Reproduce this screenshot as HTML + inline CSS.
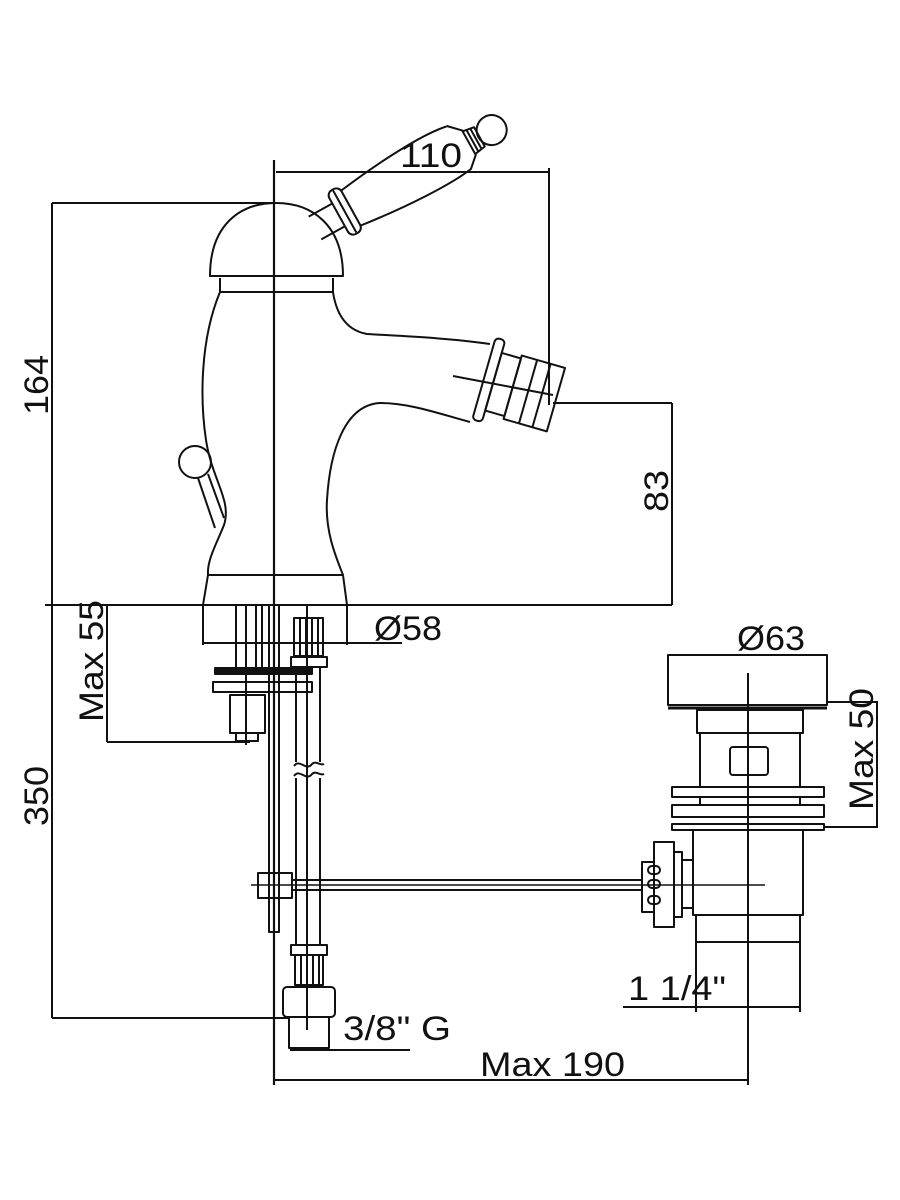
<!DOCTYPE html>
<html><head><meta charset="utf-8"><style>
html,body{margin:0;padding:0;background:#fff}
svg{display:block}
text{font-family:"Liberation Sans",sans-serif;fill:#111}
</style></head><body>
<svg width="900" height="1200" viewBox="0 0 900 1200" xmlns="http://www.w3.org/2000/svg">
<g fill="none" stroke="#111" stroke-width="2" stroke-linejoin="round">
<line x1="274" y1="160" x2="274" y2="1085" stroke-width="2.2"/>
<line x1="276" y1="172" x2="550" y2="172"/>
<line x1="549" y1="168" x2="549" y2="405"/>
<line x1="52" y1="203" x2="275" y2="203"/>
<line x1="52" y1="203" x2="52" y2="1018"/>
<line x1="45" y1="605" x2="672" y2="605"/>
<line x1="52" y1="1018" x2="290" y2="1018"/>
<line x1="553" y1="403" x2="672" y2="403"/>
<line x1="672" y1="403" x2="672" y2="605"/>
<path d="M210 276 C210 225 240 203 276 203 C312 203 343 225 343 276 Z"/>
<line x1="220" y1="292" x2="333" y2="292"/>
<line x1="220" y1="278" x2="220" y2="292"/>
<line x1="333" y1="278" x2="333" y2="292"/>
<g transform="translate(315 228) rotate(-29)">
<path d="M0 -13 L27 -13 M0 13 L27 13"/>
<rect x="27" y="-25" width="14" height="50" rx="6"/>
<line x1="34" y1="-24" x2="34" y2="24"/>
<path d="M41 -20 C90 -27 140 -30 165 -25 L176 -14 L176 14 L165 24 C140 28 90 26 41 20"/>
<path d="M176 -13 L188 -11 L188 11 L176 13"/>
<line x1="180" y1="-12" x2="180" y2="12"/>
<line x1="184" y1="-11" x2="184" y2="11"/>
<circle cx="202" cy="0" r="15"/>
</g>
<path d="M220 292 C200 340 200 400 206 440 C212 480 232 500 224 525 C216 545 207 560 208 575"/>
<path d="M333 292 C336 312 345 330 367 334 C400 336 450 338 490 344"/>
<path d="M470 422 C440 414 410 403 380 403 C345 405 330 450 327 500 C325 530 335 555 343 575"/>
<path d="M208 575 L343 575 L347 605 L203 605 Z"/>
<g transform="rotate(16 515 390)">
<rect x="482" y="345" width="10" height="85" rx="4"/>
<rect x="492" y="358" width="20" height="60"/>
<rect x="512" y="355" width="45" height="66"/>
<line x1="528" y1="355" x2="528" y2="421"/>
<line x1="542" y1="355" x2="542" y2="421"/>
</g>
<line x1="453" y1="376" x2="553" y2="395"/>
<circle cx="195" cy="462" r="16"/>
<path d="M198 478 L215 528 M208 474 L224 518"/>
<line x1="203" y1="605" x2="203" y2="645"/>
<line x1="347" y1="605" x2="347" y2="645"/>
<line x1="203" y1="643" x2="402" y2="643"/>
<line x1="236" y1="605" x2="236" y2="670"/>
<line x1="246" y1="605" x2="246" y2="745"/>
<line x1="256" y1="605" x2="256" y2="670"/>
<line x1="262" y1="605" x2="262" y2="670"/>
<rect x="215" y="668" width="97" height="6" fill="#111"/>
<rect x="213" y="682" width="99" height="10"/>
<rect x="230" y="695" width="35" height="38"/>
<rect x="236" y="733" width="22" height="8"/>
<line x1="107" y1="605" x2="107" y2="742"/>
<line x1="107" y1="742" x2="250" y2="742"/>
<rect x="269" y="605" width="10" height="327"/>
<rect x="294" y="618" width="29" height="38"/>
<line x1="300" y1="618" x2="300" y2="656"/><line x1="306" y1="618" x2="306" y2="656"/><line x1="312" y1="618" x2="312" y2="656"/><line x1="318" y1="618" x2="318" y2="656"/>
<rect x="291" y="657" width="36" height="10"/>
<path d="M296 667 L296 762 M320 667 L320 762"/>
<path d="M294 766 C300 758 306 772 312 764 C316 760 320 766 324 764"/>
<path d="M294 776 C300 768 306 782 312 774 C316 770 320 776 324 774"/>
<path d="M296 778 L296 945 M320 778 L320 945"/>
<line x1="307" y1="605" x2="307" y2="1030"/>
<rect x="291" y="945" width="36" height="10"/>
<rect x="295" y="955" width="28" height="30"/>
<line x1="301" y1="955" x2="301" y2="985"/><line x1="313" y1="955" x2="313" y2="985"/><line x1="319" y1="955" x2="319" y2="985"/>
<rect x="283" y="987" width="52" height="30" rx="4"/>
<rect x="289" y="1017" width="40" height="31"/>
<line x1="290" y1="1050" x2="410" y2="1050"/>
<line x1="292" y1="880" x2="642" y2="880"/>
<line x1="292" y1="890" x2="642" y2="890"/>
<line x1="251" y1="885" x2="765" y2="885" stroke-width="1.5"/>
<rect x="258" y="873" width="34" height="25"/>
<rect x="642" y="862" width="12" height="50"/>
<rect x="654" y="842" width="20" height="85"/>
<rect x="674" y="852" width="8" height="65"/>
<rect x="648" y="866" width="12" height="8" rx="4"/>
<rect x="648" y="880" width="12" height="8" rx="4"/>
<rect x="648" y="896" width="12" height="8" rx="4"/>
<line x1="682" y1="860" x2="694" y2="860"/><line x1="682" y1="908" x2="694" y2="908"/>
<rect x="668" y="655" width="159" height="50"/>
<line x1="668" y1="708" x2="827" y2="708" stroke-width="3"/>
<rect x="697" y="710" width="106" height="23"/>
<rect x="700" y="733" width="100" height="54"/>
<rect x="730" y="747" width="38" height="28" rx="3"/>
<rect x="672" y="787" width="152" height="10"/>
<rect x="672" y="805" width="152" height="12"/>
<rect x="672" y="824" width="152" height="6"/>
<line x1="700" y1="797" x2="700" y2="805"/><line x1="800" y1="797" x2="800" y2="805"/>
<rect x="693" y="830" width="110" height="85"/>
<rect x="696" y="915" width="104" height="27"/>
<line x1="748" y1="673" x2="748" y2="1085"/>
<line x1="696" y1="942" x2="696" y2="1012"/>
<line x1="800" y1="942" x2="800" y2="1012"/>
<line x1="623" y1="1007" x2="800" y2="1007"/>
<line x1="827" y1="702" x2="878" y2="702"/>
<line x1="824" y1="827" x2="878" y2="827"/>
<line x1="877" y1="702" x2="877" y2="827"/>
<line x1="275" y1="1080" x2="748" y2="1080"/>
</g>
<g font-size="34">
<text x="400" y="167" textLength="62" lengthAdjust="spacingAndGlyphs">110</text>
<text transform="translate(48 415) rotate(-90)" textLength="60" lengthAdjust="spacingAndGlyphs">164</text>
<text transform="translate(48 826) rotate(-90)" textLength="60" lengthAdjust="spacingAndGlyphs">350</text>
<text transform="translate(668 512) rotate(-90)" textLength="42" lengthAdjust="spacingAndGlyphs">83</text>
<text transform="translate(103 722) rotate(-90)" textLength="122" lengthAdjust="spacingAndGlyphs">Max 55</text>
<text transform="translate(873 810) rotate(-90)" textLength="122" lengthAdjust="spacingAndGlyphs">Max 50</text>
<text x="374" y="640" textLength="68" lengthAdjust="spacingAndGlyphs">Ø58</text>
<text x="737" y="650" textLength="68" lengthAdjust="spacingAndGlyphs">Ø63</text>
<text x="628" y="1000" textLength="98" lengthAdjust="spacingAndGlyphs">1 1/4"</text>
<text x="343" y="1040" textLength="108" lengthAdjust="spacingAndGlyphs">3/8" G</text>
<text x="480" y="1076" textLength="145" lengthAdjust="spacingAndGlyphs">Max 190</text>
</g>
</svg>
</body></html>
